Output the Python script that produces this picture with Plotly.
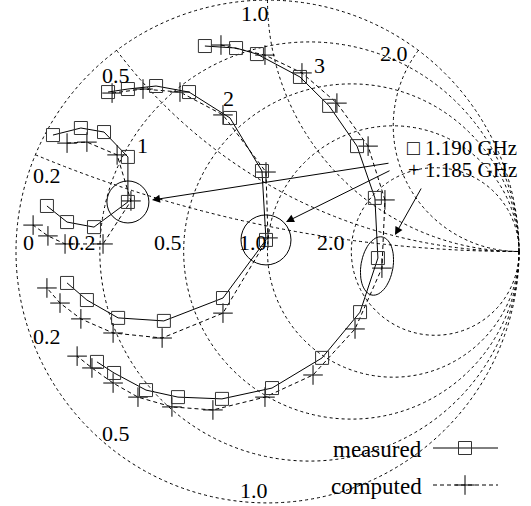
import numpy as np
import plotly.graph_objects as go

# Reflection coefficient S11 (real / imaginary part) of the three sweeps
meas1_re = [-0.853, -0.742, -0.650, -0.555, -0.555, -0.690, -0.797, -0.877]
meas1_im = [0.463, 0.491, 0.475, 0.376, 0.197, 0.097, 0.117, 0.181]
comp1_re = [-0.797, -0.718, -0.598, -0.543, -0.654, -0.805, -0.873, -0.932]
comp1_im = [0.431, 0.435, 0.384, 0.201, 0.030, 0.030, 0.062, 0.105]

meas2_re = [-0.634, -0.555, -0.443, -0.312, -0.149, -0.022, -0.006,
            -0.177, -0.412, -0.594, -0.718, -0.797]
meas2_im = [0.634, 0.646, 0.658, 0.634, 0.531, 0.320, 0.046,
            -0.185, -0.276, -0.264, -0.193, -0.125]
comp2_re = [-0.618, -0.495, -0.348, -0.177, -0.006, 0.002,
            -0.177, -0.419, -0.614, -0.742, -0.825, -0.877]
comp2_im = [0.630, 0.646, 0.634, 0.543, 0.316, 0.054,
            -0.245, -0.344, -0.324, -0.268, -0.205, -0.145]

meas3_re = [-0.249, -0.125, -0.042, 0.129, 0.245, 0.356, 0.427, 0.439,
            0.368, 0.217, 0.018, -0.181, -0.356, -0.483, -0.610, -0.678]
meas3_im = [0.817, 0.809, 0.785, 0.694, 0.579, 0.419, 0.213, -0.026,
            -0.241, -0.423, -0.543, -0.586, -0.579, -0.551, -0.483, -0.439]
comp3_re = [-0.185, -0.010, 0.137, 0.276, 0.400, 0.467, 0.455, 0.348,
            0.181, -0.010, -0.217, -0.380, -0.515, -0.614, -0.698, -0.757]
comp3_im = [0.821, 0.781, 0.710, 0.590, 0.419, 0.205, -0.066, -0.308,
            -0.491, -0.579, -0.630, -0.618, -0.579, -0.523, -0.463, -0.416]

# index of the 1.190 GHz sample in each measured sweep
res_idx = [4, 6, 7]

# chart grid values (normalised impedance)
real_grid = [0, 0.2, 0.5, 1, 2]
imag_grid = [0.2, 0.5, 1, 2]
real_text = ["0", "0.2", "0.5", "1.0", "2.0"]
imag_text_top = ["0.2", "0.5", "1.0", "2.0"]
imag_text_bottom = ["0.2", "0.5", "1.0"]

FONT = "Liberation Serif"
FS = 22
W, H = 531, 506


def to_z(re, im):
    g = np.asarray(re) + 1j * np.asarray(im)
    z = (1 + g) / (1 - g)
    return z.real, z.imag


fig = go.Figure()

meas = [(meas1_re, meas1_im), (meas2_re, meas2_im), (meas3_re, meas3_im)]
comp = [(comp1_re, comp1_im), (comp2_re, comp2_im), (comp3_re, comp3_im)]

for re, im in comp:
    r, x = to_z(re, im)
    fig.add_trace(go.Scattersmith(
        real=r, imag=x, mode="lines+markers",
        line=dict(color="black", width=1, dash="4px,3px"),
        marker=dict(symbol="cross-thin-open", size=14, color="black",
                    line=dict(color="black", width=1)),
        showlegend=False))

for re, im in meas:
    r, x = to_z(re, im)
    fig.add_trace(go.Scattersmith(
        real=r, imag=x, mode="lines+markers",
        line=dict(color="black", width=1),
        marker=dict(symbol="square-open", size=13, color="#333",
                    line=dict(color="#333", width=1)),
        showlegend=False))

# circles around the 1.190 GHz samples of sweeps 1 and 2
for (re, im), k, size in zip(meas[:2], res_idx[:2], [42, 50]):
    r, x = to_z([re[k]], [im[k]])
    fig.add_trace(go.Scattersmith(
        real=r, imag=x, mode="markers",
        marker=dict(symbol="circle-open", size=size, color="black",
                    line=dict(color="black", width=1)),
        showlegend=False, hoverinfo="skip"))

# legend samples on a pixel-space overlay
fig.add_trace(go.Scatter(
    x=[433, 465, 498], y=[448, 448, 448], mode="lines",
    line=dict(color="black", width=1), showlegend=False, hoverinfo="skip"))
fig.add_trace(go.Scatter(
    x=[465], y=[448], mode="markers",
    marker=dict(symbol="square-open", size=13, color="#333",
                line=dict(color="#333", width=1)),
    showlegend=False, hoverinfo="skip"))
fig.add_trace(go.Scatter(
    x=[433, 465, 498], y=[485, 485, 485], mode="lines",
    line=dict(color="black", width=1, dash="4px,3px"),
    showlegend=False, hoverinfo="skip"))
fig.add_trace(go.Scatter(
    x=[465], y=[485], mode="markers",
    marker=dict(symbol="cross-thin-open", size=14, color="black",
                line=dict(color="black", width=1)),
    showlegend=False, hoverinfo="skip"))

ann_font = dict(family=FONT, size=FS, color="black")
annotations = []


def label(txt, px, py, anchor="center", vanchor="middle", size=FS):
    annotations.append(dict(x=px, y=py, xref="x", yref="y", text=txt,
                            xanchor=anchor, yanchor=vanchor, showarrow=False,
                            font=dict(ann_font, size=size)))


# grid value labels
for txt, px in zip(real_text, [28, 82, 168, 253, 331]):
    label(txt, px, 242)
for txt, (px, py) in zip(imag_text_top, [(47, 175), (116, 75), (255, 13), (394, 53)]):
    label(txt, px, py)
for txt, (px, py) in zip(imag_text_bottom[:2], [(47, 336), (116, 433)]):
    label(txt, px, py)
label(imag_text_bottom[2], 254, 505, vanchor="bottom")

# sweep numbers
for txt, px, py in [("1", 142, 145), ("2", 228, 98), ("3", 319, 65)]:
    label(txt, px, py)

label("\u25a1 1.190 GHz", 519, 148, anchor="right", size=21)
label("+ 1.185 GHz", 519, 170, anchor="right", size=21)
label("measured", 424, 449, anchor="right", size=23)
label("computed", 424, 486, anchor="right", size=23)

for (hx, hy), (tx, ty) in [((152, 200), (390, 163)),
                           ((286, 222), (391, 170)),
                           ((395, 235), (422, 187))]:
    annotations.append(dict(x=hx, y=hy, ax=tx, ay=ty, xref="x", yref="y",
                            axref="x", ayref="y", text="", showarrow=True,
                            arrowhead=2, arrowsize=1.6, arrowwidth=1,
                            arrowcolor="black"))

# ellipse around the 1.190 GHz sample of sweep 3
t = np.linspace(0, 2 * np.pi, 61)
u = np.array([0.17, -0.985])
v = np.array([0.985, 0.17])
cx, cy = 377, 266
pts = [(cx + 29.5 * np.cos(a) * u[0] + 16 * np.sin(a) * v[0],
        cy + 29.5 * np.cos(a) * u[1] + 16 * np.sin(a) * v[1]) for a in t]
path = "M " + " L ".join(f"{px:.1f},{py:.1f}" for px, py in pts) + " Z"

axis_style = dict(showticklabels=False, ticks="", showline=False,
                  showgrid=True, gridcolor="black", griddash="dot",
                  gridwidth=1)

fig.update_layout(
    width=W, height=H,
    margin=dict(l=0, r=0, t=0, b=0, pad=0),
    paper_bgcolor="white", plot_bgcolor="rgba(0,0,0,0)",
    showlegend=False,
    smith=dict(
        domain=dict(x=[16 / W, 519 / W], y=[3 / H, 1.0]),
        bgcolor="white",
        realaxis=dict(axis_style, tickvals=real_grid),
        imaginaryaxis=dict(axis_style, tickvals=imag_grid),
    ),
    xaxis=dict(range=[0, W], domain=[0, 1], visible=False, fixedrange=True),
    yaxis=dict(range=[H, 0], domain=[0, 1], visible=False, fixedrange=True),
    annotations=annotations,
    shapes=[dict(type="path", path=path, xref="x", yref="y",
                 line=dict(color="black", width=1))],
)

fig.write_html("out.html")
